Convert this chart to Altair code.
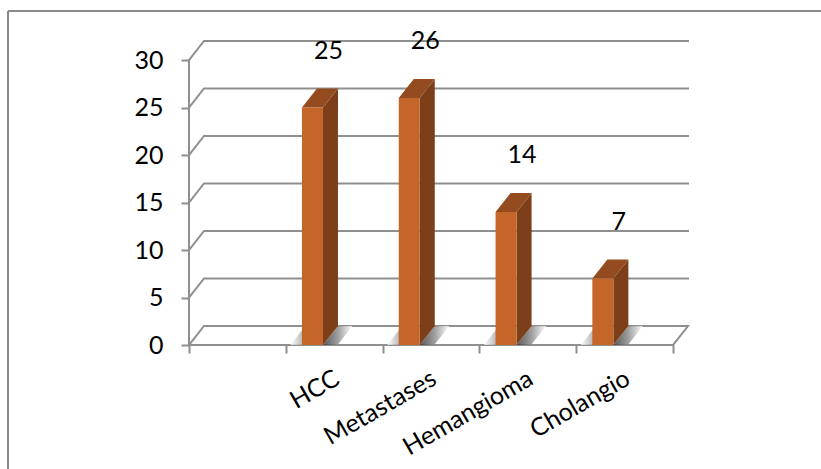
import altair as alt
import pandas as pd

# ---- data -------------------------------------------------------------
categories = ["HCC", "Metastases", "Hemangioma", "Cholangio"]
counts = [25, 26, 14, 7]
y_ticks = [0, 5, 10, 15, 20, 25, 30]
slot_ticks = [0, 1, 2, 3, 4, 5]
first_slot = 1          # the leftmost category slot stays empty

# ---- 3-D look, in data units -------------------------------------------
N_SLOTS = 5
DX = 0.155              # depth shift along x (slots)
DY = 2.0                # depth shift along y (counts)
BAR_L, BAR_R = 0.167, 0.384   # front face position inside its slot
SHADOW_W = 0.15

FONT = "Lato"
FONT_SIZE = 25
GRID = "#8f8f8f"
FRONT = "#c4652a"
SIDE = "#7d3f19"
TOP = "#944b1f"

# ---- derived tables ------------------------------------------------------
bars = pd.DataFrame({
    "name": categories,
    "v": counts,
    "x0": [first_slot + i + BAR_L for i in range(len(categories))],
    "x1": [first_slot + i + BAR_R for i in range(len(categories))],
})
bars["xm"] = (bars["x0"] + bars["x1"]) / 2

side_rows, top_rows, rsh_rows, lsh_rows = [], [], [], []
for name, v, x0, x1 in zip(bars["name"], bars["v"], bars["x0"], bars["x1"]):
    side_rows += [
        {"name": name, "x": x1, "ylo": 0, "yhi": v},
        {"name": name, "x": x1 + DX, "ylo": DY, "yhi": v + DY},
    ]
    top_rows += [
        {"name": name, "y": v, "xlo": x0, "xhi": x1},
        {"name": name, "y": v + DY, "xlo": x0 + DX, "xhi": x1 + DX},
    ]
    rsh_rows += [
        {"name": name, "y": 0, "xlo": x1, "xhi": x1 + SHADOW_W},
        {"name": name, "y": DY, "xlo": x1 + DX, "xhi": x1 + DX + SHADOW_W},
    ]
    lsh_rows += [
        {"name": name, "y": 0, "xlo": x0 - SHADOW_W * 0.8, "xhi": x0},
        {"name": name, "y": DY * 0.8, "xlo": x0 - SHADOW_W * 0.8 + DX * 0.8, "xhi": x0 + DX * 0.8},
    ]
side = pd.DataFrame(side_rows)
top = pd.DataFrame(top_rows)
rshadow = pd.DataFrame(rsh_rows)
lshadow = pd.DataFrame(lsh_rows)

# back wall grid lines with their diagonal return to the front axis
grid_rows = []
for t in y_ticks:
    pts = [(0, t), (DX, t + DY), (N_SLOTS + DX, t + DY)]
    if t == 0:
        pts.append((N_SLOTS, 0))      # right edge of the floor
    for k, (gx, gy) in enumerate(pts):
        grid_rows.append({"gid": f"g{t}", "k": k, "x": gx, "y": gy})
# front floor edge and front value axis
for k, (gx, gy) in enumerate([(0, 0), (N_SLOTS, 0)]):
    grid_rows.append({"gid": "floor", "k": k, "x": gx, "y": gy})
for k, (gx, gy) in enumerate([(0, 0), (0, max(y_ticks))]):
    grid_rows.append({"gid": "axis", "k": k, "x": gx, "y": gy})
grid = pd.DataFrame(grid_rows)

# ---- scales and axes -----------------------------------------------------
xs = alt.Scale(domain=[0, N_SLOTS + DX], nice=False, zero=False, padding=0)
ys = alt.Scale(domain=[0, max(y_ticks) + DY], nice=False, zero=False)

label_expr = "''"
for i, c in reversed(list(enumerate(categories))):
    label_expr = f"datum.value == {first_slot + i} ? '{c}' : ({label_expr})"

x_axis = alt.Axis(
    values=slot_ticks, title=None, grid=False, domain=False,
    ticks=True, tickSize=8, tickWidth=2, tickColor=GRID,
    labelExpr=label_expr, labelAngle=-30, labelAlign="right",
    labelBaseline="middle", labelOffset=51, labelPadding=23,
    labelFont=FONT, labelFontSize=FONT_SIZE, labelColor="black", labelOverlap=False,
    labelBound=False, labelFlush=False,
)
y_axis = alt.Axis(
    values=y_ticks, title=None, grid=False, domain=False,
    ticks=True, tickSize=8, tickWidth=2, tickColor=GRID,
    labelPadding=18, labelFont=FONT, labelFontSize=FONT_SIZE, labelColor="black",
    labelFlush=False, labelOverlap=False,
)


def X(f):
    return alt.X(f, type="quantitative", scale=xs, axis=x_axis)


def Y(f):
    return alt.Y(f, type="quantitative", scale=ys, axis=y_axis)


# ---- layers ----------------------------------------------------------------
grid_layer = alt.Chart(grid).mark_line(color=GRID, strokeWidth=2, strokeCap="square").encode(
    x=X("x"), y=Y("y"), detail="gid:N", order="k:Q"
)

shade_right = alt.Chart(rshadow).mark_area(
    orient="horizontal",
    color={"gradient": "linear", "x1": 0, "x2": 1, "y1": 0, "y2": 0,
           "stops": [{"offset": 0, "color": "#3c3c3c"},
                     {"offset": 0.5, "color": "#8c8c8c"},
                     {"offset": 1, "color": "#ffffff"}]},
    opacity=0.85,
).encode(y=Y("y"), x=X("xlo"), x2="xhi", detail="name:N")

shade_left = alt.Chart(lshadow).mark_area(
    orient="horizontal",
    color={"gradient": "linear", "x1": 0, "x2": 1, "y1": 0, "y2": 0,
           "stops": [{"offset": 0, "color": "#ffffff"},
                     {"offset": 1, "color": "#555555"}]},
    opacity=0.8,
).encode(y=Y("y"), x=X("xlo"), x2="xhi", detail="name:N")

side_layer = alt.Chart(side).mark_area(color=SIDE, opacity=1).encode(
    x=X("x"), y=Y("yhi"), y2="ylo", detail="name:N"
)

top_layer = alt.Chart(top).mark_area(orient="horizontal", color=TOP, opacity=1).encode(
    y=Y("y"), x=X("xlo"), x2="xhi", detail="name:N"
)

front_layer = alt.Chart(bars).mark_rect(color=FRONT).encode(
    x=X("x0"), x2="x1", y=Y("v"), y2=alt.datum(0)
)

value_labels = alt.Chart(bars).mark_text(
    font=FONT, fontSize=FONT_SIZE, color="black", dx=16, dy=-57, baseline="middle"
).encode(x=X("xm"), y=Y("v"), text=alt.Text("v:Q"))

# outer frame of the chart area
frame_top = alt.Chart(bars).mark_rule(color="#8a8a8a", strokeWidth=1.5).encode(
    x=alt.value(-181), x2=alt.value(640), y=alt.value(-30)
)
frame_left = alt.Chart(bars).mark_rule(color="#8a8a8a", strokeWidth=1.5).encode(
    x=alt.value(-181), y=alt.value(-30), y2=alt.value(440)
)

chart = alt.layer(
    frame_top, frame_left,
    grid_layer, shade_left, shade_right,
    side_layer, top_layer, front_layer,
    value_labels,
).properties(
    width=499, height=304,
    autosize=alt.AutoSizeParams(type="none"),
    padding={"left": 189, "top": 41, "right": 133, "bottom": 124},
    background="white",
).configure_view(stroke=None)

chart.save("out.html", embed_options={"renderer": "svg", "actions": False})
